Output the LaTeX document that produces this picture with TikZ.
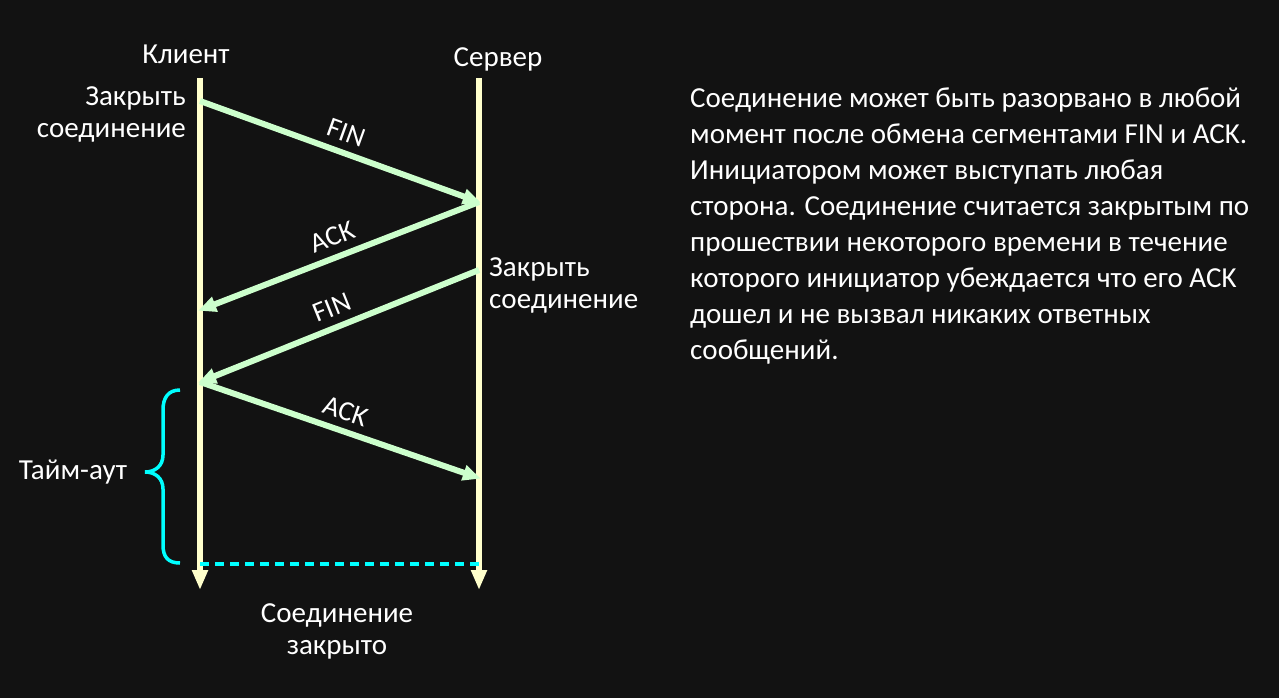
\documentclass[tikz,border=0pt]{standalone}
\usepackage{fontspec}
\setmainfont{Carlito}
\usetikzlibrary{arrows.meta}
\definecolor{bg}{HTML}{121212}
\definecolor{life}{HTML}{FFFFCC}
\definecolor{msg}{HTML}{CCFFCC}
\definecolor{cy}{HTML}{00FFFF}
\begin{document}
\begin{tikzpicture}[x=1pt,y=-1pt,
  txt/.style={text=white,font=\fontsize{29}{32}\selectfont,inner sep=0pt},
  lifeline/.style={draw=life,line width=6pt,-{Triangle[length=20pt,width=15pt]}},
  msgarrow/.style={draw=msg,line width=6pt,-{Triangle[length=18pt,width=15pt]},shorten >=-2pt},
  msglabel/.style={text=white,font=\fontsize{28}{30}\selectfont,inner sep=8pt,sloped,above}]
\fill[bg] (0,0) rectangle (1279,698);
\useasboundingbox (0,0) rectangle (1279,698);
% coordinates
\coordinate (ctop) at (200,78);
\coordinate (cbot) at (200,590);
\coordinate (stop) at (479,78);
\coordinate (sbot) at (479,590);
\coordinate (c1) at (200,101);
\coordinate (s1) at (479,202);
\coordinate (c2) at (200,310);
\coordinate (s2) at (479,270);
\coordinate (c3) at (200,382);
\coordinate (s3) at (479,478);
\coordinate (cd) at (200,564);
\coordinate (sd) at (479,564);
% lifelines
\draw[lifeline] (ctop) -- (cbot);
\draw[lifeline] (stop) -- (sbot);
% messages
\draw[msgarrow] (c1) -- node[msglabel,pos=0.5]{FIN} (s1);
\draw[msgarrow] (s1) -- node[msglabel,pos=0.5]{ACK} (c2);
\draw[msgarrow] (s2) -- node[msglabel,pos=0.5]{FIN} (c3);
\draw[msgarrow] (c3) -- node[msglabel,pos=0.5]{ACK} (s3);
% dashed
\draw[cy,line width=3.5pt,dash pattern=on 9pt off 6pt] (cd) -- (sd);
% brace
\draw[cy,line width=3.5pt] (180,390) .. controls (168,390) and (163,398) .. (163,410) -- (163,455) .. controls (163,466) and (155,472) .. (145,472) .. controls (155,472) and (163,478) .. (163,489) -- (163,545) .. controls (163,557) and (168,563) .. (180,563);
% labels
\node[txt] (client) at (186,54) {Клиент};
\node[txt] (server) at (498,59) {Сервер};
\node[txt,anchor=east,align=right] (cclose) at (186,114) {Закрыть\\соединение};
\node[txt,anchor=west,align=left] (sclose) at (489,285) {Закрыть\\соединение};
\node[txt] (timeout) at (73,472) {Тайм-аут};
\node[txt,align=center] (closed) at (337,631) {Соединение\\закрыто};
\node[txt,anchor=north west,align=left,font=\fontsize{29}{36}\selectfont] (para) at (690,88) {Соединение может быть разорвано в любой\\момент после обмена сегментами FIN и ACK.\\Инициатором может выступать любая\\сторона. Соединение считается закрытым по\\прошествии некоторого времени в течение\\которого инициатор убеждается что его ACK\\дошел и не вызвал никаких ответных\\сообщений.};
\end{tikzpicture}
\end{document}
